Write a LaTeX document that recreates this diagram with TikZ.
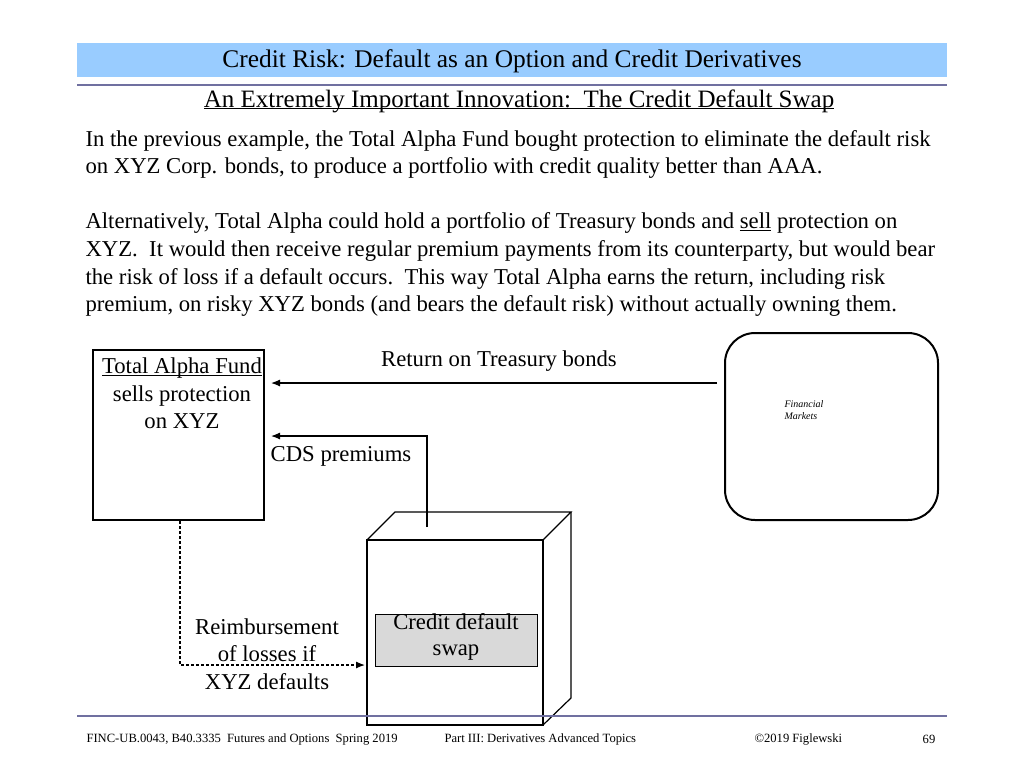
\documentclass[tikz,border=0pt]{standalone}
\usepackage{fontspec}
\setmainfont{Liberation Serif}
\usetikzlibrary{positioning,arrows.meta}
\definecolor{bandblue}{HTML}{99CCFF}
\definecolor{rulepurple}{HTML}{7070A0}
\definecolor{cdsgray}{HTML}{D9D9D9}
\newcommand{\uln}[1]{\underline{\smash{#1}}}
\tikzset{
  body/.style={anchor=west, font=\fontsize{22.7}{27}\selectfont},
  lbl/.style={font=\fontsize{22.7}{27.5}\selectfont},
  flow/.style={-{Latex[length=9pt,width=7pt]}, line width=1.2pt},
  box/.style={draw, line width=2pt},
  edge/.style={line width=1.2pt}
}
\begin{document}
\begin{tikzpicture}[x=1pt, y=-1pt]
        \useasboundingbox (0,0) rectangle (1024,768);
        % Header
        \fill[bandblue] (77,43) rectangle (947,77);
        \node (title) at (512,61) {\fontsize{25.4}{30}\selectfont Credit Risk: Default as an Option and Credit Derivatives};
        \draw[rulepurple, line width=2.5pt] (77,85) -- (947,85);
        \node (subtitle) at (519,108) {\fontsize{25}{30}\selectfont \uln{An Extremely Important Innovation:\ \ The Credit Default Swap}};

        % Body text
        \node[body] (l1) at (82,141) {In the previous example, the Total Alpha Fund bought protection to eliminate the default risk};
        \node[body] (l2) at (82,168) {on XYZ Corp. bonds, to produce a portfolio with credit quality better than AAA.};
        \node[body] (l3) at (82,223) {Alternatively, Total Alpha could hold a portfolio of Treasury bonds and \uln{sell} protection on};
        \node[body] (l4) at (82,251) {XYZ.\ \ It would then receive regular premium payments from its counterparty, but would bear};
        \node[body] (l5) at (82,279) {the risk of loss if a default occurs.\ \ This way Total Alpha earns the return, including risk};
        \node[body] (l6) at (82,306) {premium, on risky XYZ bonds (and bears the default risk) without actually owning them.};

        % Total Alpha Fund
        \draw[box] (93,350) rectangle (264,520);
        \node[lbl, align=center, anchor=north] (fund) at (182,370) {\uln{Total Alpha Fund}\\sells protection\\on XYZ};
        \coordinate (fundR1) at (271,383);
        \coordinate (fundR2) at (271,436);
        \coordinate (fundB) at (180,521);

        % Financial Markets
        \draw[box, rounded corners=30pt] (725,333) rectangle (938,520);
        \node[lbl, align=left, font=\itshape, anchor=north west] (markets) at (781,397) {Financial\\Markets};
        \coordinate (mktL) at (717,383);

        % Credit default swap cube
        \draw[edge] (367,540) rectangle (543,725);
        \draw[edge] (367,540) -- (395,512) -- (571,512) -- (543,540);
        \draw[edge] (571,512) -- (571,698) -- (543,725);
        \node[draw, edge, fill=cdsgray, minimum width=162pt, minimum height=52pt, anchor=north west, inner sep=0pt] (cds) at (375,614) {};
        \node[lbl, align=center, anchor=north, font=\fontsize{22.7}{26}\selectfont] (cdstext) at (456,610) {Credit default\\swap};
        \coordinate (cubeT) at (427,527);
        \coordinate (cubeL) at (365,665);

        % Flows
        \draw[flow] (mktL) -- (fundR1);
        \node[lbl] (ret) at (499,361) {Return on Treasury bonds};
        \draw[flow] (cubeT) |- (fundR2);
        \node[lbl] (prem) at (341,456) {CDS premiums};
        \draw[flow, densely dashed] (fundB) |- (cubeL);
        \node[lbl, align=center] (reimb) at (267,654) {Reimbursement\\of losses if\\XYZ defaults};

        % Footer
        \draw[rulepurple, line width=2.5pt] (77,716) -- (947,716);
        \node[anchor=west, font=\fontsize{12.6}{14}\selectfont] (f1) at (83,739) {FINC-UB.0043, B40.3335\ \ Futures and Options\ \ Spring 2019};
        \node[anchor=west, font=\fontsize{12.6}{14}\selectfont] (f2) at (441,739) {Part III: Derivatives Advanced Topics};
        \node[anchor=west, font=\fontsize{12.6}{14}\selectfont] (f3) at (751,739) {©2019 Figlewski};
        \node[font=\fontsize{12.6}{14}\selectfont] (f4) at (929,739) {69};
\end{tikzpicture}
\end{document}
